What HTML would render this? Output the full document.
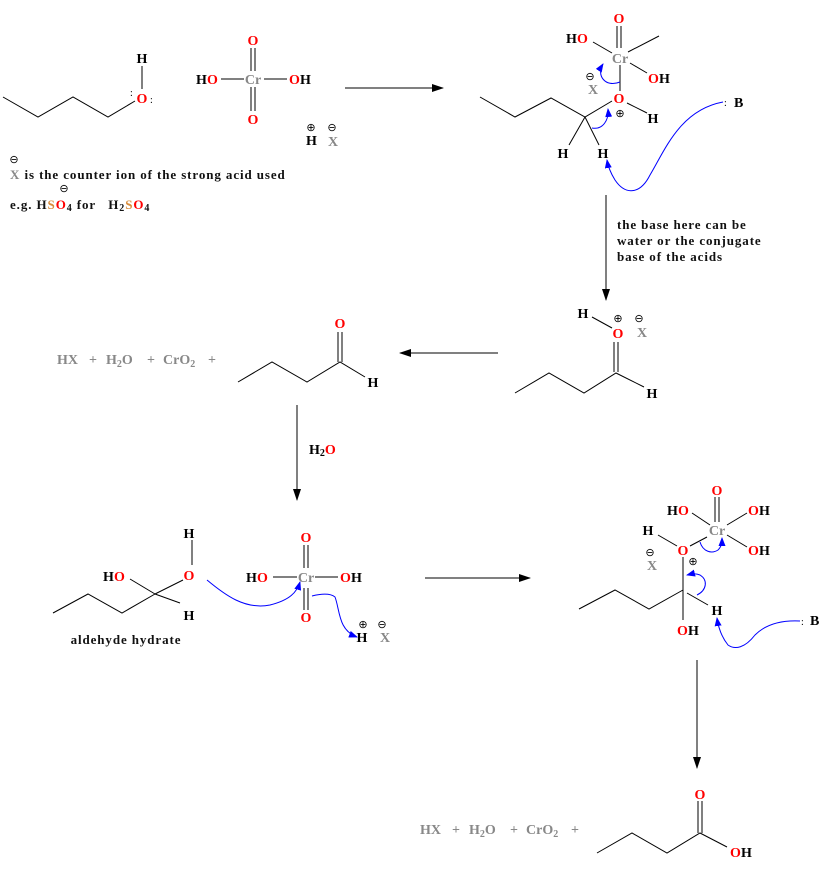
<!DOCTYPE html>
<html><head><meta charset="utf-8"><style>
html,body{margin:0;padding:0;background:#fff;}
svg{display:block;}
text{font-family:"Liberation Serif",serif;font-weight:bold;font-size:14px;white-space:pre;}
.r{fill:#f00;}.g{fill:#888;}.k{fill:#000;}.o{fill:#d98c3a;}
.t{font-size:13px;fill:#111;letter-spacing:0.9px;}
.d{font-size:10px;font-weight:normal;fill:#000;}
.c{font-size:11px;font-weight:normal;letter-spacing:0;}
</style></head><body>
<svg width="823" height="872" viewBox="0 0 823 872" xmlns="http://www.w3.org/2000/svg">
<defs>
<marker id="ah" markerWidth="12" markerHeight="8" refX="11" refY="4" orient="auto" markerUnits="userSpaceOnUse"><path d="M0,0 L12,4 L0,8 Z" fill="#000"/></marker>
<marker id="bh" markerWidth="9" markerHeight="7" refX="8" refY="3.5" orient="auto" markerUnits="userSpaceOnUse"><path d="M0,0 L9,3.5 L0,7 Z" fill="#00f"/></marker>
</defs>
<g stroke="#000" stroke-width="1" fill="none">
<polyline points="3,97 38,117 73,97 108,117 135,101"/>
<line x1="142" y1="66" x2="142" y2="89"/>
<line x1="251" y1="48" x2="251" y2="71"/><line x1="255" y1="48" x2="255" y2="71"/>
<line x1="251" y1="87" x2="251" y2="111"/><line x1="255" y1="87" x2="255" y2="111"/>
<line x1="221" y1="79" x2="244" y2="79"/><line x1="264" y1="79" x2="287" y2="79"/>
<line x1="345" y1="88" x2="443" y2="88" marker-end="url(#ah)"/>
<polyline points="480,97 515,117 551,98 585,117 612,101"/>
<line x1="617" y1="26" x2="617" y2="48"/>
<line x1="621" y1="26" x2="621" y2="48"/>
<line x1="593" y1="42" x2="612" y2="53"/>
<line x1="628" y1="52" x2="659" y2="36"/>
<line x1="630" y1="63" x2="647" y2="73"/>
<line x1="620" y1="65" x2="620" y2="91"/>
<line x1="627" y1="103" x2="647" y2="113"/>
<line x1="585" y1="117" x2="569" y2="145"/>
<line x1="585" y1="117" x2="599" y2="145"/>
<line x1="606" y1="195" x2="606" y2="300" marker-end="url(#ah)"/>
<line x1="592" y1="317" x2="612" y2="328"/>
<line x1="614" y1="342" x2="614" y2="372"/><line x1="618" y1="342" x2="618" y2="372"/>
<polyline points="515,393 549,373 584,393 616,373 644,387"/>
<line x1="498" y1="353" x2="400" y2="353" marker-end="url(#ah)"/>
<polyline points="238,382 272,362 307,382 340,362 365,377"/>
<line x1="338" y1="332" x2="338" y2="362"/><line x1="342" y1="332" x2="342" y2="362"/>
<line x1="297" y1="405" x2="297" y2="500" marker-end="url(#ah)"/>
<polyline points="53,613 88,594 122,613 155,594"/>
<line x1="155" y1="594" x2="130" y2="579"/>
<line x1="155" y1="594" x2="183" y2="580"/>
<line x1="155" y1="594" x2="180" y2="603"/>
<line x1="192" y1="540" x2="192" y2="565"/>
<line x1="273" y1="577" x2="297" y2="577"/><line x1="315" y1="577" x2="338" y2="577"/>
<line x1="304" y1="545" x2="304" y2="568"/><line x1="308" y1="545" x2="308" y2="568"/>
<line x1="304" y1="588" x2="304" y2="610"/><line x1="308" y1="588" x2="308" y2="610"/>
<line x1="425" y1="578" x2="530" y2="578" marker-end="url(#ah)"/>
<line x1="715" y1="497" x2="715" y2="522"/><line x1="719" y1="497" x2="719" y2="522"/>
<line x1="692" y1="513" x2="710" y2="525"/>
<line x1="727" y1="525" x2="747" y2="513"/>
<line x1="727" y1="535" x2="747" y2="547"/>
<line x1="658" y1="535" x2="677" y2="546"/>
<line x1="690" y1="546" x2="707" y2="537"/>
<polyline points="579,609 615,590 649,609 683,590"/>
<line x1="683" y1="557" x2="683" y2="620"/>
<line x1="687" y1="593" x2="708" y2="605"/>
<line x1="697" y1="660" x2="697" y2="768" marker-end="url(#ah)"/>
<polyline points="597,853 632,833 667,853 700,833 727,847"/>
<line x1="698" y1="801" x2="698" y2="833"/><line x1="702" y1="801" x2="702" y2="833"/>
</g>
<g stroke="#00f" stroke-width="1" fill="none">
<path d="M620,82 C605,88 596,75 603,64" marker-end="url(#bh)"/>
<path d="M592,128 C603,130 609,120 608,109" marker-end="url(#bh)"/>
<path d="M723,102 C680,110 665,150 650,175 C640,195 625,195 615,180 C610,172 608,166 607,160" marker-end="url(#bh)"/>
<path d="M207,580 C225,595 245,610 270,605 C290,600 297,592 300,582" marker-end="url(#bh)"/>
<path d="M312,596 C320,594 330,593 335,597 C340,610 338,630 357,637" marker-end="url(#bh)"/>
<path d="M700,542 C703,552 712,554 718,550 C722,546 722,542 722,538" marker-end="url(#bh)"/>
<path d="M697,595 C707,590 708,580 700,575 C695,573 691,574 687,575" marker-end="url(#bh)"/>
<path d="M800,621 C780,620 765,625 755,635 C745,648 735,650 728,645 C720,635 718,625 717,618" marker-end="url(#bh)"/>
</g>
<text x="142" y="63" text-anchor="middle" class="k">H</text>
<text x="142" y="103" text-anchor="middle" class="r">O</text>
<text x="130" y="96" class="d">:</text><text x="150" y="103" class="d">:</text>
<text x="253" y="45" text-anchor="middle" class="r">O</text>
<text x="253" y="84" text-anchor="middle" class="g">Cr</text>
<text x="253" y="124" text-anchor="middle" class="r">O</text>
<text x="196" y="84" class="k">H</text><text x="207" y="84" class="r">O</text>
<text x="289" y="84" class="r">O</text><text x="300" y="84" class="k">H</text>
<text x="306" y="145" class="k">H</text><text x="328" y="146" class="g">X</text>
<text x="311" y="131" text-anchor="middle" class="c">⊕</text>
<text x="332" y="131" text-anchor="middle" class="c">⊖</text>
<text x="14" y="163" text-anchor="middle" class="c">⊖</text>
<text x="10" y="179" class="t"><tspan class="g">X</tspan> is the counter ion of the strong acid used</text>
<text x="64" y="192" text-anchor="middle" class="c">⊖</text>
<text x="10" y="209" class="t">e.g. H<tspan class="o">S</tspan><tspan class="r">O</tspan><tspan font-size="10" dy="2">4</tspan><tspan dy="-2"> for   H</tspan><tspan font-size="10" dy="2">2</tspan><tspan class="o" dy="-2">S</tspan><tspan class="r">O</tspan><tspan font-size="10" dy="2">4</tspan></text>
<text x="619" y="23" text-anchor="middle" class="r">O</text>
<text x="620" y="63" text-anchor="middle" class="g">Cr</text>
<text x="566" y="43" class="k">H</text><text x="577" y="43" class="r">O</text>
<text x="648" y="83" class="r">O</text><text x="659" y="83" class="k">H</text>
<text x="619" y="103" text-anchor="middle" class="r">O</text>
<text x="620" y="117" text-anchor="middle" class="c">⊕</text>
<text x="653" y="123" text-anchor="middle" class="k">H</text>
<text x="563" y="158" text-anchor="middle" class="k">H</text>
<text x="603" y="158" text-anchor="middle" class="k">H</text>
<text x="593" y="94" text-anchor="middle" class="g">X</text>
<text x="590" y="80" text-anchor="middle" class="c">⊖</text>
<text x="724" y="106" class="d">:</text><text x="734" y="107" class="k">B</text>
<text x="617" y="229" class="t">the base here can be</text>
<text x="617" y="245" class="t">water or the conjugate</text>
<text x="617" y="261" class="t">base of the acids</text>
<text x="583" y="318" text-anchor="middle" class="k">H</text>
<text x="618" y="338" text-anchor="middle" class="r">O</text>
<text x="618" y="322" text-anchor="middle" class="c">⊕</text>
<text x="642" y="337" text-anchor="middle" class="g">X</text>
<text x="639" y="322" text-anchor="middle" class="c">⊖</text>
<text x="652" y="398" text-anchor="middle" class="k">H</text>
<text x="57" y="364" class="g">HX</text><text x="89" y="364" class="g">+</text>
<text x="106" y="364" class="g">H<tspan font-size="10" dy="3">2</tspan><tspan dy="-3">O</tspan></text>
<text x="147" y="364" class="g">+</text>
<text x="163" y="364" class="g">CrO<tspan font-size="10" dy="3">2</tspan></text>
<text x="208" y="364" class="g">+</text>
<text x="340" y="328" text-anchor="middle" class="r">O</text>
<text x="373" y="387" text-anchor="middle" class="k">H</text>
<text x="309" y="454" class="k">H<tspan font-size="10" dy="2">2</tspan><tspan dy="-2" class="r">O</tspan></text>
<text x="189" y="538" text-anchor="middle" class="k">H</text>
<text x="189" y="580" text-anchor="middle" class="r">O</text>
<text x="103" y="581" class="k">H</text><text x="114" y="581" class="r">O</text>
<text x="189" y="620" text-anchor="middle" class="k">H</text>
<text x="126" y="644" text-anchor="middle" class="t">aldehyde hydrate</text>
<text x="306" y="542" text-anchor="middle" class="r">O</text>
<text x="306" y="582" text-anchor="middle" class="g">Cr</text>
<text x="306" y="622" text-anchor="middle" class="r">O</text>
<text x="246" y="582" class="k">H</text><text x="257" y="582" class="r">O</text>
<text x="340" y="582" class="r">O</text><text x="351" y="582" class="k">H</text>
<text x="362" y="642" text-anchor="middle" class="k">H</text>
<text x="385" y="642" text-anchor="middle" class="g">X</text>
<text x="363" y="628" text-anchor="middle" class="c">⊕</text>
<text x="382" y="628" text-anchor="middle" class="c">⊖</text>
<text x="717" y="495" text-anchor="middle" class="r">O</text>
<text x="717" y="535" text-anchor="middle" class="g">Cr</text>
<text x="667" y="515" class="k">H</text><text x="678" y="515" class="r">O</text>
<text x="748" y="515" class="r">O</text><text x="759" y="515" class="k">H</text>
<text x="748" y="555" class="r">O</text><text x="759" y="555" class="k">H</text>
<text x="683" y="555" text-anchor="middle" class="r">O</text>
<text x="648" y="535" text-anchor="middle" class="k">H</text>
<text x="652" y="570" text-anchor="middle" class="g">X</text>
<text x="650" y="556" text-anchor="middle" class="c">⊖</text>
<text x="693" y="565" text-anchor="middle" class="c">⊕</text>
<text x="677" y="635" class="r">O</text><text x="688" y="635" class="k">H</text>
<text x="717" y="615" text-anchor="middle" class="k">H</text>
<text x="801" y="625" class="d">:</text><text x="810" y="625" class="k">B</text>
<text x="420" y="834" class="g">HX</text><text x="452" y="834" class="g">+</text>
<text x="469" y="834" class="g">H<tspan font-size="10" dy="3">2</tspan><tspan dy="-3">O</tspan></text>
<text x="510" y="834" class="g">+</text>
<text x="526" y="834" class="g">CrO<tspan font-size="10" dy="3">2</tspan></text>
<text x="571" y="834" class="g">+</text>
<text x="700" y="799" text-anchor="middle" class="r">O</text>
<text x="730" y="857" class="r">O</text><text x="741" y="857" class="k">H</text>
</svg>
</body></html>
